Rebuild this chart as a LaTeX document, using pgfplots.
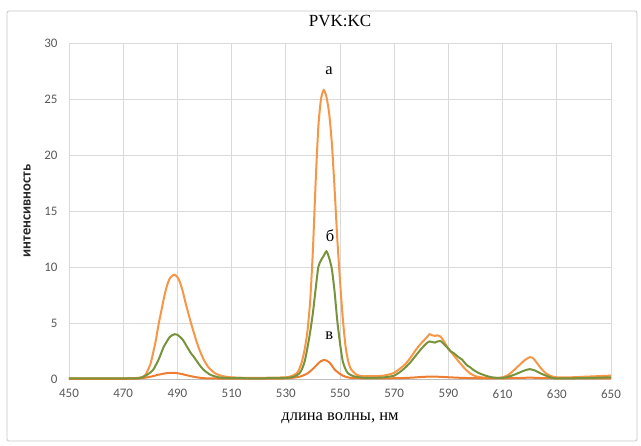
\documentclass[border=0pt]{standalone}
\usepackage{fontspec}
\setmainfont{Liberation Serif}
\newfontfamily\carlito{Carlito}
\usepackage{pgfplots}
\pgfplotsset{compat=1.18}
\definecolor{ora}{HTML}{F79646}
\definecolor{orc}{HTML}{ED7D31}
\definecolor{grn}{HTML}{77933C}
\definecolor{gridc}{HTML}{D9D9D9}
\definecolor{tickc}{HTML}{595959}
\begin{document}
\begin{tikzpicture}[x=1pt,y=1pt]
\useasboundingbox (-69,-67) rectangle (572,379);
\draw[color=gridc!80!gray, line width=0.8pt, rounded corners=2pt] (-62,-62) rectangle (568,368);
\begin{axis}[
  at={(0,0)}, anchor=south west,
  scale only axis, width=542pt, height=336pt,
  xmin=450, xmax=650, ymin=0, ymax=30,
  xtick={450,470,...,650}, ytick={0,5,...,30},
  grid=major, major grid style={color=gridc, line width=0.7pt},
  axis line style={draw=none},
  major tick length=0pt,
  ticklabel style={font=\carlito\fontsize{13}{15}\selectfont, text=tickc},
  /pgf/number format/assume math mode=true,
  xticklabel style={yshift=-7pt},
  yticklabel style={xshift=-8pt},
  clip=false,
]
\draw[color=gridc!70!gray, line width=0.8pt] (axis cs:450,0) -- (axis cs:650,0);
\addplot[color=ora, line width=2pt, smooth, tension=0.4] coordinates {
(450,0.05)(460,0.05)(470,0.05)(474,0.08)(476,0.12)(478,0.3)(480,1.3)(481,2.3)(482,3.4)(483,4.8)(484,6.0)(485,7.2)(486,8.2)(487,8.9)(488,9.2)(489,9.3)(490,9.1)(491,8.6)(492,7.8)(493,6.8)(494,5.9)(495,5.0)(496,4.2)(497,3.4)(498,2.7)(499,2.1)(500,1.6)(501,1.2)(502,0.9)(504,0.5)(506,0.3)(508,0.2)(510,0.15)(515,0.1)(520,0.1)(525,0.12)(530,0.15)(532,0.25)(534,0.5)(535,0.9)(536,1.6)(537,2.7)(538,4.3)(539,7.0)(540,11.5)(541,17.5)(542,22.5)(543,25.0)(544,25.8)(545,25.2)(546,23.7)(547,21.0)(548,17.0)(549,12.5)(550,8.8)(551,5.5)(552,3.0)(553,1.6)(554,0.9)(556,0.4)(558,0.25)(560,0.25)(563,0.25)(566,0.3)(568,0.4)(570,0.55)(572,0.9)(574,1.3)(576,1.9)(578,2.6)(580,3.2)(582,3.7)(583,4.0)(584,3.9)(585,3.85)(586,3.9)(587,3.8)(588,3.5)(589,3.1)(590,2.7)(591,2.4)(592,2.1)(594,1.5)(596,0.95)(598,0.5)(600,0.25)(602,0.15)(605,0.1)(608,0.1)(610,0.15)(612,0.35)(614,0.75)(616,1.2)(618,1.65)(620,1.95)(621,1.9)(622,1.65)(624,1.0)(626,0.5)(628,0.25)(630,0.15)(635,0.15)(640,0.2)(645,0.25)(650,0.3)
};
\addplot[color=orc, line width=2pt, smooth, tension=0.4] coordinates {
(450,0.02)(470,0.02)(476,0.05)(480,0.2)(483,0.38)(486,0.52)(488,0.55)(490,0.52)(492,0.42)(495,0.25)(498,0.12)(502,0.05)(520,0.03)(530,0.05)(535,0.2)(538,0.5)(540,0.9)(542,1.4)(543,1.6)(544,1.7)(545,1.65)(546,1.5)(547,1.2)(548,0.85)(550,0.45)(552,0.2)(555,0.08)(565,0.05)(575,0.1)(580,0.18)(584,0.22)(588,0.18)(595,0.1)(605,0.05)(615,0.08)(620,0.12)(625,0.08)(635,0.05)(650,0.06)
};
\addplot[color=grn, line width=2pt, smooth, tension=0.4] coordinates {
(450,0.05)(470,0.05)(475,0.05)(477,0.15)(479,0.4)(481,0.8)(483,1.7)(484,2.3)(485,2.9)(486,3.3)(487,3.7)(488,3.9)(489,4.0)(490,3.95)(491,3.75)(492,3.5)(493,3.1)(494,2.7)(495,2.3)(496,2.0)(497,1.65)(498,1.3)(499,1.0)(500,0.75)(502,0.4)(504,0.22)(506,0.12)(510,0.08)(520,0.06)(530,0.1)(533,0.2)(535,0.5)(536,0.9)(537,1.6)(538,2.8)(539,4.2)(540,5.9)(541,8.0)(542,10.0)(543,10.6)(544,11.0)(545,11.4)(546,10.8)(547,9.8)(548,7.8)(549,5.2)(550,3.2)(551,1.6)(552,0.9)(553,0.5)(555,0.25)(558,0.12)(560,0.1)(565,0.12)(568,0.2)(570,0.3)(572,0.6)(574,1.0)(576,1.5)(578,2.1)(580,2.7)(582,3.2)(583,3.35)(584,3.3)(585,3.25)(586,3.35)(587,3.4)(588,3.2)(589,2.95)(590,2.7)(591,2.45)(592,2.3)(593,2.1)(594,1.9)(595,1.75)(596,1.45)(597,1.2)(598,1.05)(599,0.85)(600,0.7)(601,0.55)(602,0.45)(604,0.28)(606,0.15)(608,0.1)(610,0.1)(612,0.2)(614,0.35)(616,0.55)(618,0.75)(620,0.88)(622,0.75)(624,0.5)(626,0.3)(628,0.12)(630,0.05)(640,0.08)(650,0.15)
};
\node[font=\fontsize{16.5}{18}\selectfont] at (axis cs:546,27.5) {а};
\node[font=\fontsize{16.5}{18}\selectfont] at (axis cs:546.3,12.8) {б};
\node[font=\fontsize{16.5}{18}\selectfont] at (axis cs:546,3.9) {в};
\end{axis}
\node[font=\fontsize{17}{19}\selectfont] at (271,358) {PVK:KC};
\node[font=\fontsize{16.5}{18}\selectfont] at (271,-39) {длина волны, нм};
\node[font=\carlito\bfseries\fontsize{14.5}{16}\selectfont, text=black!85, rotate=90] at (-42,168) {интенсивность};
\end{tikzpicture}
\end{document}
